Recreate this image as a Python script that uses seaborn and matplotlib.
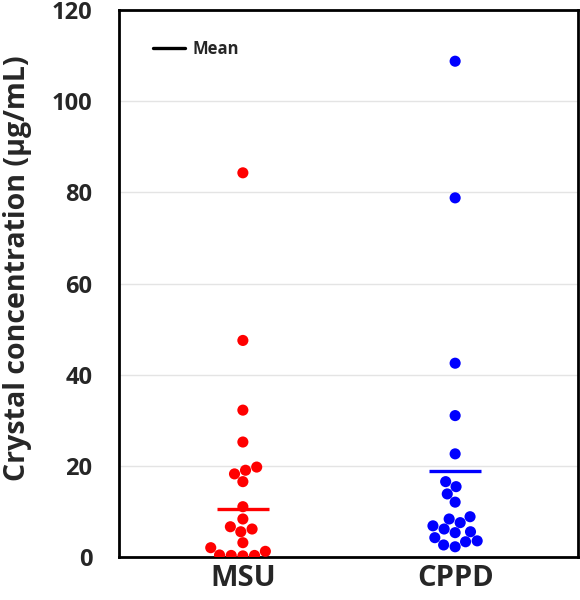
import pandas as pd
import seaborn as sns
import matplotlib.pyplot as plt

# Values
groups = ['MSU', 'CPPD']
msu_values = [84.3, 47.5, 32.2, 25.2, 19.7, 19.0, 18.2, 16.5, 11.0, 8.3,
              6.6, 6.1, 5.5, 3.1, 2.0, 1.2, 0.4, 0.3, 0.2, 0.3]
cppd_values = [108.8, 78.8, 42.5, 31.0, 22.6, 16.5, 15.4, 13.8, 12.0, 8.8,
               8.3, 7.5, 6.8, 6.1, 5.5, 5.3, 4.2, 3.5, 3.3, 2.6, 2.2]
mean_values = [10.5, 18.9]
y_ticks = [0, 20, 40, 60, 80, 100, 120]

df = pd.DataFrame({
    'group': ['MSU'] * len(msu_values) + ['CPPD'] * len(cppd_values),
    'value': msu_values + cppd_values,
})
palette = {'MSU': '#ff0000', 'CPPD': '#0000ff'}

sns.set_style('white')
plt.rcParams['font.family'] = ['Open Sans', 'DejaVu Sans']

fig = plt.figure(figsize=(5.8, 6.0), dpi=100)
ax = fig.add_axes([0.205, 0.072, 0.792, 0.911])

sns.swarmplot(data=df, x='group', y='value', hue='group', order=groups,
              palette=palette, size=8, linewidth=0, legend=False, ax=ax)

# Mean bars
for i, (g, m) in enumerate(zip(groups, mean_values)):
    ax.hlines(m, i - 0.122, i + 0.122, color=palette[g], linewidth=2.4, zorder=3)

ax.set_xlim(-0.584, 1.58)
ax.set_ylim(0, 120)
ax.set_yticks(y_ticks)
ax.set_yticklabels([str(t) for t in y_ticks], fontsize=17, fontweight='bold')
ax.set_xticks(range(len(groups)))
ax.set_xticklabels(groups, fontsize=21, fontweight='bold')
ax.tick_params(axis='x', length=0, pad=5)
ax.tick_params(axis='y', length=0, pad=19)
ax.set_xlabel('')
ax.set_ylabel('Crystal concentration (µg/mL)', fontsize=20.5, fontweight='bold')
ax.yaxis.set_label_coords(-0.19, 0.528)

for t in y_ticks[1:-1]:
    ax.axhline(t, color='#e4e4e4', linewidth=1, zorder=0)
for s in ax.spines.values():
    s.set_visible(True)
    s.set_color('black')
    s.set_linewidth(2)

# Legend entry for the mean marker
ax.plot([], [], color='black', linewidth=2.4, label='Mean')
leg = ax.legend(loc='upper left', frameon=False, fontsize=12, handlelength=1.9,
                handletextpad=0.5, borderpad=0, borderaxespad=0,
                bbox_to_anchor=(0.074, 0.945))
for txt in leg.get_texts():
    txt.set_fontweight('bold')

fig.savefig('out.png', dpi=100)
